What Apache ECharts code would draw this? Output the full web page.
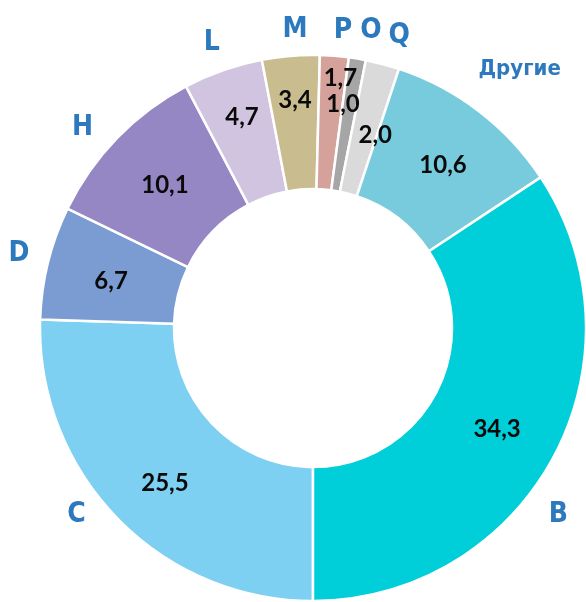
<!DOCTYPE html>
<html>
<head>
<meta charset="utf-8">
<script src="https://cdn.jsdelivr.net/npm/echarts@6/dist/echarts.min.js"></script>
<style>
html,body{margin:0;padding:0;background:#fff;}
#chart{width:586px;height:602px;}
</style>
</head>
<body>
<div id="chart"></div>
<script>
// Data
const categories = ['C', 'D', 'H', 'L', 'M', 'P', 'O', 'Q', 'Другие', 'B'];
const values = [25.5, 6.7, 10.1, 4.7, 3.4, 1.7, 1.0, 2.0, 10.6, 34.3];

// Styles
const colors = ['#7DD0F2', '#7B9CD2', '#9587C3', '#D1C4E0', '#C9BC8F', '#D4A29B', '#A6A6A6', '#DADADA', '#78CBDD', '#00CED8'];
const valueOffsets = [[2, 10], [1, 3], [2, 3], [-2, -13], [-1, -19], [11, -41], [-4, -18], [9, 9], [3, 3], [0, 2]];
const nameOffsets = [[-16, -27], [4, -1], [-10, 13], [0, 5], [7, 8], [6, 9], [8, 6], [8, 5], [20, -15], [-25, 41]];

const chart = echarts.init(document.getElementById('chart'), null, {renderer: 'canvas'});
const center = [313, 328];

const option = {
  animation: false,
  series: [
    {
      type: 'pie',
      center: center,
      radius: [139, 273],
      startAngle: 270,
      clockwise: true,
      silent: true,
      avoidLabelOverlap: false,
      itemStyle: {borderColor: '#ffffff', borderWidth: 2.5},
      label: {
        show: true,
        position: 'inside',
        fontFamily: 'Lato, "Open Sans", sans-serif',
        fontWeight: 'bold',
        fontSize: 24,
        color: '#0a0a0a',
        formatter: p => p.value.toFixed(1).replace('.', ',')
      },
      labelLine: {show: false},
      labelLayout: p => ({dx: valueOffsets[p.dataIndex][0], dy: valueOffsets[p.dataIndex][1]}),
      emphasis: {disabled: true},
      data: categories.map((c, i) => ({name: c, value: values[i], itemStyle: {color: colors[i]}}))
    },
    {
      type: 'pie',
      center: center,
      radius: [290, 318],
      startAngle: 270,
      clockwise: true,
      silent: true,
      avoidLabelOverlap: false,
      itemStyle: {color: 'rgba(0,0,0,0)', borderWidth: 0},
      label: {
        show: true,
        position: 'inside',
        fontFamily: '"Liberation Sans Narrow", "DejaVu Sans Condensed", sans-serif',
        fontWeight: 'bold',
        fontSize: 28,
        color: '#2C79BD',
        formatter: p => p.name
      },
      labelLine: {show: false},
      labelLayout: p => ({dx: nameOffsets[p.dataIndex][0], dy: nameOffsets[p.dataIndex][1]}),
      emphasis: {disabled: true},
      data: categories.map((c, i) => ({
        name: c,
        value: values[i],
        label: c === 'Другие' ? {fontSize: 22} : {}
      }))
    }
  ]
};
chart.setOption(option);
</script>
</body>
</html>
